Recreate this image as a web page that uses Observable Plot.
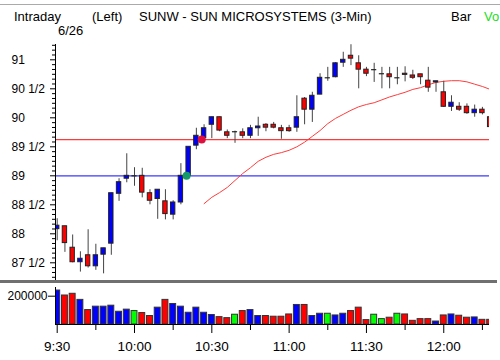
<!DOCTYPE html>
<html><head><meta charset="utf-8">
<script src="https://cdn.jsdelivr.net/npm/d3@7"></script>
<script src="https://cdn.jsdelivr.net/npm/@observablehq/plot@0.6"></script>
<style>
body{margin:0;background:#fff;}
#chart{position:relative;width:500px;height:360px;overflow:hidden;background:#fff;font-family:"Liberation Sans",Arial,sans-serif;}
#price,#volume{position:absolute;left:0;}
#price{top:0;}
#volume{top:283px;}
.hdr{position:absolute;font-size:13px;line-height:13px;white-space:nowrap;color:#000;}
.line{position:absolute;left:0;}
</style></head>
<body>
<div id="chart">
  <div id="price"></div>
  <div id="volume"></div>
  <div class="line" style="top:4px;width:500px;height:1px;background:#aaa;"></div>
  <div class="line" style="top:280px;width:497px;height:3px;background:#707070;"></div>
  <div class="hdr" style="left:14px;top:10px;">Intraday</div>
  <div class="hdr" style="left:92px;top:10px;">(Left)</div>
  <div class="hdr" style="left:139px;top:10px;">SUNW - SUN MICROSYSTEMS (3-Min)</div>
  <div class="hdr" style="left:451px;top:10px;">Bar</div>
  <div class="hdr" style="left:484px;top:10px;color:#22dd22;">Vo</div>
  <div class="hdr" style="left:58px;top:24px;">6/26</div>
</div>
<script>
// ---- data (3-minute bars from 9:30) ----
const open  = [88.08,88.13,87.76,87.51,87.63,87.44,87.64,87.83,88.69,88.95,
               89.00,89.00,88.70,88.60,88.56,88.33,88.54,89.00,89.52,89.65,
               89.88,90.01,89.75,89.76,89.75,89.69,89.82,89.88,89.88,89.82,
               89.82,89.83,90.33,90.14,90.40,90.69,90.70,90.95,91.07,90.94,
               90.83,90.83,90.76,90.75,90.69,90.76,90.73,90.75,90.64,90.61,
               90.44,90.19,90.19,90.19,90.08,90.14,90.01];
const high  = [88.26,88.13,87.98,87.69,88.07,87.82,87.75,88.70,88.95,89.38,
               89.14,89.13,88.76,88.76,88.76,88.57,89.21,89.50,89.82,89.88,
               90.01,90.01,89.79,89.77,89.81,89.87,90.01,89.90,89.92,89.87,
               89.87,90.38,90.35,90.44,90.76,90.87,90.95,91.13,91.26,91.07,
               90.87,90.94,90.87,90.87,90.87,90.88,90.82,90.75,90.87,90.63,
               90.63,90.38,90.26,90.24,90.22,90.18,90.01];
const low   = [87.88,87.68,87.50,87.34,87.41,87.37,87.31,87.63,88.56,88.88,
               88.82,88.62,88.50,88.25,88.24,88.24,88.50,89.00,89.45,89.61,
               89.64,89.76,89.64,89.56,89.64,89.64,89.68,89.76,89.81,89.63,
               89.75,89.75,89.88,89.92,90.40,90.63,90.69,90.87,90.90,90.50,
               90.71,90.61,90.50,90.50,90.57,90.62,90.66,90.57,90.44,90.44,
               90.18,90.11,90.11,90.06,90.01,90.05,89.84];
const close = [88.14,87.84,87.51,87.57,87.44,87.63,87.75,88.70,88.89,89.00,
               89.00,88.71,88.57,88.76,88.34,88.54,89.00,89.50,89.69,89.82,
               90.01,89.78,89.69,89.76,89.69,89.82,89.85,89.83,89.83,89.77,
               89.77,90.01,90.14,90.38,90.69,90.69,90.94,91.00,91.02,90.83,
               90.76,90.83,90.76,90.70,90.69,90.74,90.69,90.70,90.52,90.63,
               90.19,90.26,90.14,90.08,90.14,90.08,89.84];
const volume = [240000,205000,217000,174000,102000,126000,126000,133000,90000,105000,
                95000,81000,60000,119000,174000,145000,126000,83000,119000,83000,
                67000,52000,45000,69000,95000,102000,60000,60000,55000,55000,
                71000,138000,138000,60000,76000,76000,64000,76000,95000,119000,
                31000,69000,38000,48000,76000,71000,26000,38000,38000,21000,
                64000,71000,62000,48000,50000,33000,33000];
const maStartBar = 19;
const movingAvg = [88.52,88.63,88.71,88.80,88.92,89.04,89.14,89.25,89.32,89.37,
                   89.40,89.44,89.50,89.58,89.68,89.78,89.90,89.99,90.06,90.13,
                   90.19,90.23,90.26,90.31,90.36,90.40,90.44,90.49,90.52,90.57,
                   90.61,90.63,90.64,90.64,90.62,90.58,90.54,90.49];
const redLevel = [89.625];
const blueLevel = [89.0];
const markerMinutes = [50.2, 56.1];
const markerPrices = [89.0, 89.625];
const markerKinds = ["green", "red"];
const priceTicks = [87.5, 88, 88.5, 89, 89.5, 90, 90.5, 91];
const priceTickLabels = ["87 1/2","88","88 1/2","89","89 1/2","90","90 1/2","91"];
const volumeTicks = [200000];
const volumeTickLabels = ["200000"];
const timeTicks = [0, 30, 60, 90, 120, 150];
const timeTickLabels = ["9:30","10:00","10:30","11:00","11:30","12:00"];
const timeMinorTicks = [15, 45, 75, 105, 135, 165];

// ---- derived tables ----
const candles = open.map((o, i) => ({
  t: 3 * i, open: o, high: high[i], low: low[i], close: close[i], volume: volume[i],
  dir: close[i] > o ? "up" : close[i] < o ? "down" : "flat"
}));
const maData = movingAvg.map((v, k) => ({t: 3 * (maStartBar + k), ma: v}));
const markers = markerMinutes.map((t, i) => ({t, price: markerPrices[i], kind: markerKinds[i]}));
const dirColor = {up: "#0000ff", down: "#ff0000", flat: "#00ff00"};
const minorPriceTicks = d3.range(87.25, 91.26, 1/12).filter(v => Math.abs(v * 2 - Math.round(v * 2)) > 1e-6);

const xDomain = [-0.66, 167.75];
const font = "'Liberation Sans', Arial, sans-serif";

const pricePlot = Plot.plot({
  width: 500, height: 283,
  marginLeft: 55, marginRight: 11, marginTop: 44, marginBottom: 3,
  x: {domain: xDomain, axis: null},
  y: {domain: [87.195, 91.264], axis: null},
  style: {fontFamily: font, fontSize: "12px", background: "transparent", color: "#000"},
  marks: [
    Plot.ruleY(redLevel, {stroke: "#ff3a3a", strokeWidth: 1.3}),
    Plot.ruleY(blueLevel, {stroke: "#3a3aff", strokeWidth: 1.3}),
    Plot.line(maData, {x: "t", y: "ma", stroke: "#ff3c3c", strokeWidth: 1, clip: true}),
    Plot.ruleX(candles, {x: "t", y1: "low", y2: "high", stroke: "#444", strokeWidth: 1, clip: true}),
    Plot.rect(candles.filter(d => d.dir !== "flat"), {
      x1: d => d.t - 0.85, x2: d => d.t + 0.85, y1: "open", y2: "close",
      fill: d => dirColor[d.dir], stroke: "#222", strokeWidth: 1, clip: true
    }),
    Plot.ruleY(candles.filter(d => d.dir === "flat"), {
      y: "close", x1: d => d.t - 1.0, x2: d => d.t + 1.0, stroke: "#222", strokeWidth: 1.2
    }),
    Plot.dot(markers, {x: "t", y: "price", r: 4, fill: d => d.kind === "green" ? "#13996a" : "#dd1040", stroke: "none"}),
    Plot.axisY({ticks: minorPriceTicks, tickSize: 3, tickFormat: () => "", label: null, stroke: "#000"}),
    Plot.axisY({ticks: priceTicks, tickSize: 5, tickFormat: () => "", label: null, stroke: "#000"}),
    Plot.text(priceTicks, {y: d => d, text: (d, i) => priceTickLabels[i], frameAnchor: "left", textAnchor: "start", dx: -44, fontSize: 12, fill: "#000"}),
    Plot.ruleX([xDomain[0]], {stroke: "#000", strokeWidth: 1})
  ]
});
document.getElementById("price").appendChild(pricePlot);

const volumePlot = Plot.plot({
  width: 500, height: 77,
  marginLeft: 55, marginRight: 11, marginTop: 4, marginBottom: 36,
  x: {domain: xDomain, axis: null},
  y: {domain: [0, 261500], axis: null},
  style: {fontFamily: font, fontSize: "12px", background: "transparent", color: "#000"},
  marks: [
    Plot.rectY(candles, {x1: d => d.t - 1.15, x2: d => d.t + 1.15, y: "volume",
      fill: d => dirColor[d.dir], stroke: "#333", strokeWidth: 1, clip: true}),
    Plot.ruleY([0], {stroke: "#000"}),
    Plot.ruleX([xDomain[0]], {stroke: "#000"}),
    Plot.axisY({ticks: volumeTicks, tickSize: 7, tickPadding: 1, tickFormat: (d, i) => volumeTickLabels[i], label: null, fontSize: 12, stroke: "#000"}),
    Plot.axisX({ticks: timeTicks, tickSize: 9, tickPadding: 8, tickFormat: (d, i) => timeTickLabels[i], label: null, fontSize: 13.5, stroke: "#000"}),
    Plot.axisX({ticks: timeMinorTicks, tickSize: 6, tickFormat: () => "", label: null, stroke: "#000"})
  ]
});
document.getElementById("volume").appendChild(volumePlot);
</script>
</body></html>
